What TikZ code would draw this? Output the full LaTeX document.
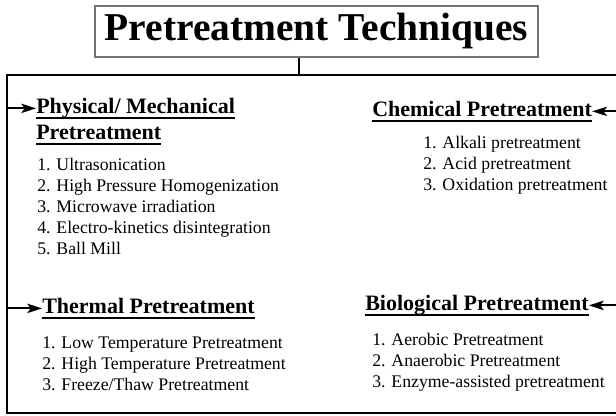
\documentclass[tikz,border=0pt]{standalone}
\usepackage{fontspec}
\setmainfont{Liberation Serif}
\usetikzlibrary{arrows.meta}

\newcommand{\ulhead}[1]{\setbox0=\hbox{#1}\rlap{\rule[-4.5pt]{\wd0}{1.5pt}}\box0}

\begin{document}
\begin{tikzpicture}[
  x=0.75pt, y=-0.75pt,
  >={Stealth[length=11pt,width=7pt,inset=2.5pt]},
  title/.style={draw=black!55, rectangle, line width=0.9pt,
    minimum width=332.25pt, minimum height=38.25pt, inner sep=0pt,
    font=\fontsize{29.6}{34}\selectfont\bfseries},
  heading/.style={anchor=base west, inner sep=0pt,
    font=\fontsize{16.5}{19.8}\selectfont\bfseries},
  items/.style={anchor=base west, inner sep=0pt, align=left,
    font=\fontsize{13.3}{15.75}\selectfont},
  arrow/.style={->, draw=black, line width=1.5pt},
  frame/.style={draw=black, line width=1.5pt}
]
\useasboundingbox (0,0) rectangle (616,415);

% Title and the bracket under it
\node[title] (title) at (316.5,31.5) {Pretreatment Techniques};
\coordinate (tap) at (299,75);
\coordinate (fl) at (7,75);
\coordinate (fr) at (624,413);
\draw[frame] (fl) rectangle (fr);
\draw[frame] (title.south -| tap) -- (tap);

% Physical / mechanical (lists are placed by their last line)
\node[heading] (phys) at (36,113) {\ulhead{Physical/ Mechanical}};
\node[heading] (physb) at (36,139) {\ulhead{Pretreatment}};
\node[items] (physlist) at (37,254) {1. Ultrasonication\\2. High Pressure Homogenization\\3. Microwave irradiation\\4. Electro-kinetics disintegration\\5. Ball Mill};
\draw[arrow] (phys.west -| fl) -- (phys.west);

% Chemical
\node[heading] (chem) at (372,116) {\ulhead{Chemical Pretreatment}};
\node[items] (chemlist) at (423,190) {1. Alkali pretreatment\\2. Acid pretreatment\\3. Oxidation pretreatment};
\draw[arrow] (chem.east -| fr) -- (chem.east);

% Thermal
\node[heading] (therm) at (42,313) {\ulhead{Thermal Pretreatment}};
\node[items] (thermlist) at (42,390) {1. Low Temperature Pretreatment\\2. High Temperature Pretreatment\\3. Freeze/Thaw Pretreatment};
\draw[arrow] (therm.west -| fl) -- (therm.west);

% Biological
\node[heading] (bio) at (365,310) {\ulhead{Biological Pretreatment}};
\node[items] (biolist) at (372,387) {1. Aerobic Pretreatment\\2. Anaerobic Pretreatment\\3. Enzyme-assisted pretreatment};
\draw[arrow] (bio.east -| fr) -- (bio.east);

\end{tikzpicture}
\end{document}
